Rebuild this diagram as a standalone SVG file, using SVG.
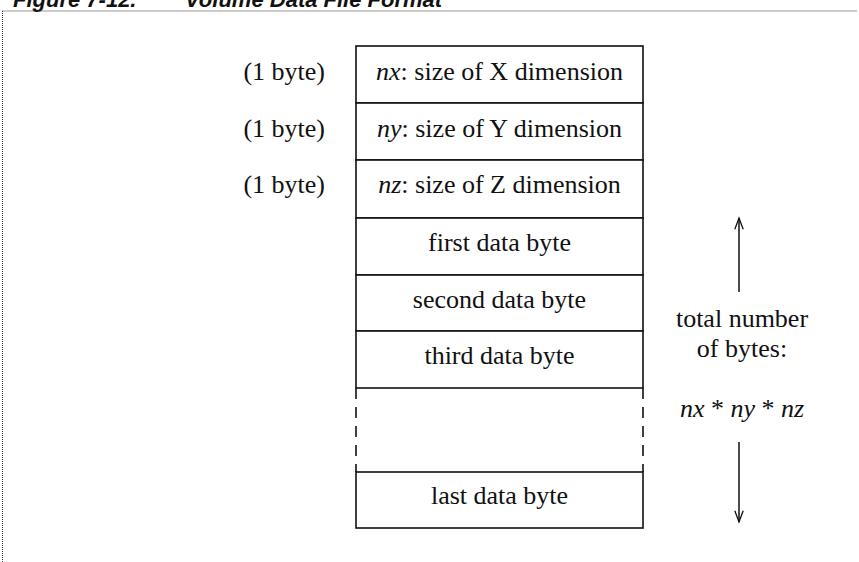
<svg xmlns="http://www.w3.org/2000/svg" width="859" height="562" viewBox="0 0 859 562">
  <style>
    .frame { fill: none; stroke: #333; stroke-width: 1; stroke-dasharray: 1 1; }
    .cell { fill: #fff; stroke: #111; stroke-width: 1.6; }
    .edge { fill: none; stroke: #111; stroke-width: 1.6; }
    .dash { fill: none; stroke: #111; stroke-width: 1.6; stroke-dasharray: 11 8; }
    .t { font-family: "Liberation Serif", "Times New Roman", serif; font-size: 26px; fill: #111; }
    .c { text-anchor: middle; }
    .r { text-anchor: end; }
    .i { font-style: italic; }
    .cap { font-family: "Liberation Sans", Arial, sans-serif; font-size: 22px; font-weight: bold; font-style: italic; fill: #111; }
    .arrow { fill: none; stroke: #111; stroke-width: 1.5; }
  </style>
  <defs>
    <marker id="vhead" markerUnits="userSpaceOnUse" markerWidth="14" markerHeight="16" viewBox="-13 -7 15 14" refX="0" refY="0" orient="auto">
      <path d="M-12,-4.5 L0,0 L-12,4.5" fill="none" stroke="#111" stroke-width="1.4"/>
    </marker>
  </defs>

  <!-- caption and page frame -->
  <text class="cap" x="13" y="6.5">Figure 7-12.</text>
  <text class="cap" x="185" y="6.5">Volume Data File Format</text>
  <path class="frame" d="M2.5,11 H857 M2.5,11 V562"/>

  <!-- header fields -->
  <g id="field-nx">
    <rect class="cell" x="356" y="46" width="287" height="57"/>
    <text class="t c" x="499.5" y="79.5"><tspan class="i">nx</tspan>: size of X dimension</text>
  </g>
  <g id="field-ny">
    <rect class="cell" x="356" y="103" width="287" height="57"/>
    <text class="t c" x="499.5" y="136.5"><tspan class="i">ny</tspan>: size of Y dimension</text>
  </g>
  <g id="field-nz">
    <rect class="cell" x="356" y="160" width="287" height="58"/>
    <text class="t c" x="499.5" y="193"><tspan class="i">nz</tspan>: size of Z dimension</text>
  </g>

  <!-- data bytes -->
  <g id="byte-first">
    <rect class="cell" x="356" y="218" width="287" height="57"/>
    <text class="t c" x="499.5" y="251">first data byte</text>
  </g>
  <g id="byte-second">
    <rect class="cell" x="356" y="275" width="287" height="56"/>
    <text class="t c" x="499.5" y="308">second data byte</text>
  </g>
  <g id="byte-third">
    <rect class="cell" x="356" y="331" width="287" height="57"/>
    <text class="t c" x="499.5" y="364">third data byte</text>
  </g>
  <g id="byte-gap">
    <path class="dash" d="M356,388 V472 M643,388 V472"/>
  </g>
  <g id="byte-last">
    <rect class="cell" x="356" y="472" width="287" height="56"/>
    <text class="t c" x="499.5" y="504">last data byte</text>
  </g>

  <!-- field sizes -->
  <g id="size-labels">
    <text class="t r" x="325" y="79.5">(1 byte)</text>
    <text class="t r" x="325" y="136.5">(1 byte)</text>
    <text class="t r" x="325" y="193">(1 byte)</text>
  </g>

  <!-- total size annotation -->
  <g id="total-label">
    <text class="t c" x="742" y="327">total number</text>
    <text class="t c" x="742" y="357">of bytes:</text>
    <text class="t c" x="742" y="417"><tspan class="i">nx</tspan> * <tspan class="i">ny</tspan> * <tspan class="i">nz</tspan></text>
  </g>

  <g id="connectors">
    <line class="arrow" x1="739" y1="292" x2="739" y2="218" marker-end="url(#vhead)"/>
    <line class="arrow" x1="739" y1="442" x2="739" y2="522" marker-end="url(#vhead)"/>
  </g>
</svg>
